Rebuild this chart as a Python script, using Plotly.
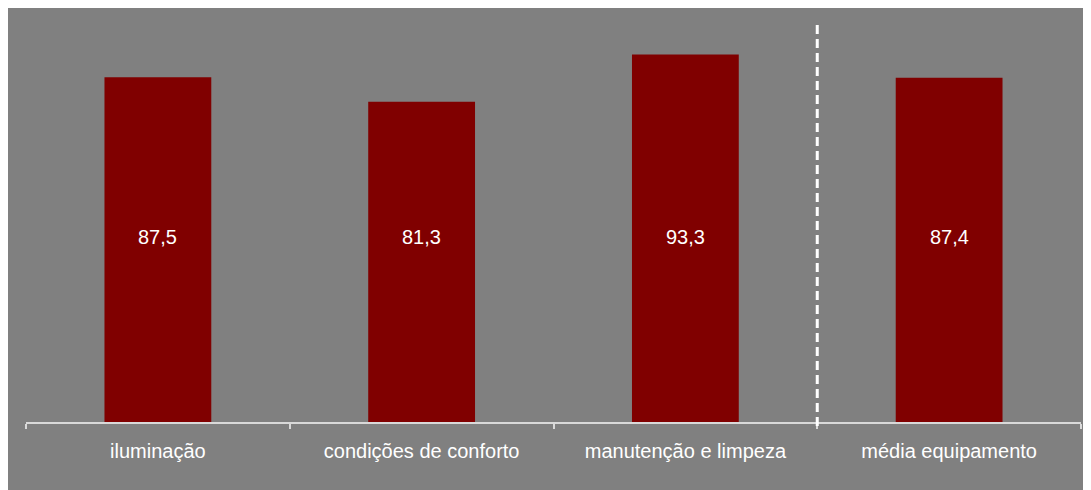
import plotly.graph_objects as go

categorias = ["iluminação", "condições de conforto", "manutenção e limpeza", "média equipamento"]
valores = [87.5, 81.3, 93.3, 87.4]
rotulos = ["87,5", "81,3", "93,3", "87,4"]

cinza = "#808080"
vinho = "#800000"

fig = go.Figure()
fig.add_trace(go.Bar(
    x=categorias, y=valores,
    marker=dict(color=vinho, line=dict(width=0)),
    width=0.405,
    hoverinfo="x+y",
))

# rótulos no meio das barras
for cat, txt in zip(categorias, rotulos):
    fig.add_annotation(x=cat, y=47, text=txt, showarrow=False,
                       font=dict(family="Liberation Sans, Arial", size=20, color="white"))

# linha tracejada separando a média
fig.add_shape(type="line", xref="x", yref="paper",
              x0=2.5, x1=2.5, y0=-0.01, y1=1.016,
              line=dict(color="white", width=3, dash="9px,5px"))

fig.update_layout(
    width=1091, height=490,
    margin=dict(l=18, r=18, t=20, b=76),
    paper_bgcolor=cinza,
    plot_bgcolor=cinza,
    showlegend=False,
    font=dict(family="Liberation Sans, Arial", size=20, color="white"),
    xaxis=dict(
        showline=True, linecolor="#d9d9d9", linewidth=2,
        ticks="outside", tickson="boundaries", ticklen=5, tickcolor="#d9d9d9", tickwidth=2,
        tickfont=dict(size=20, color="white"),
        ticklabelstandoff=10,
        showgrid=False,
    ),
    yaxis=dict(range=[0, 100], visible=False, showgrid=False),
)

fig.write_html("out.html")
